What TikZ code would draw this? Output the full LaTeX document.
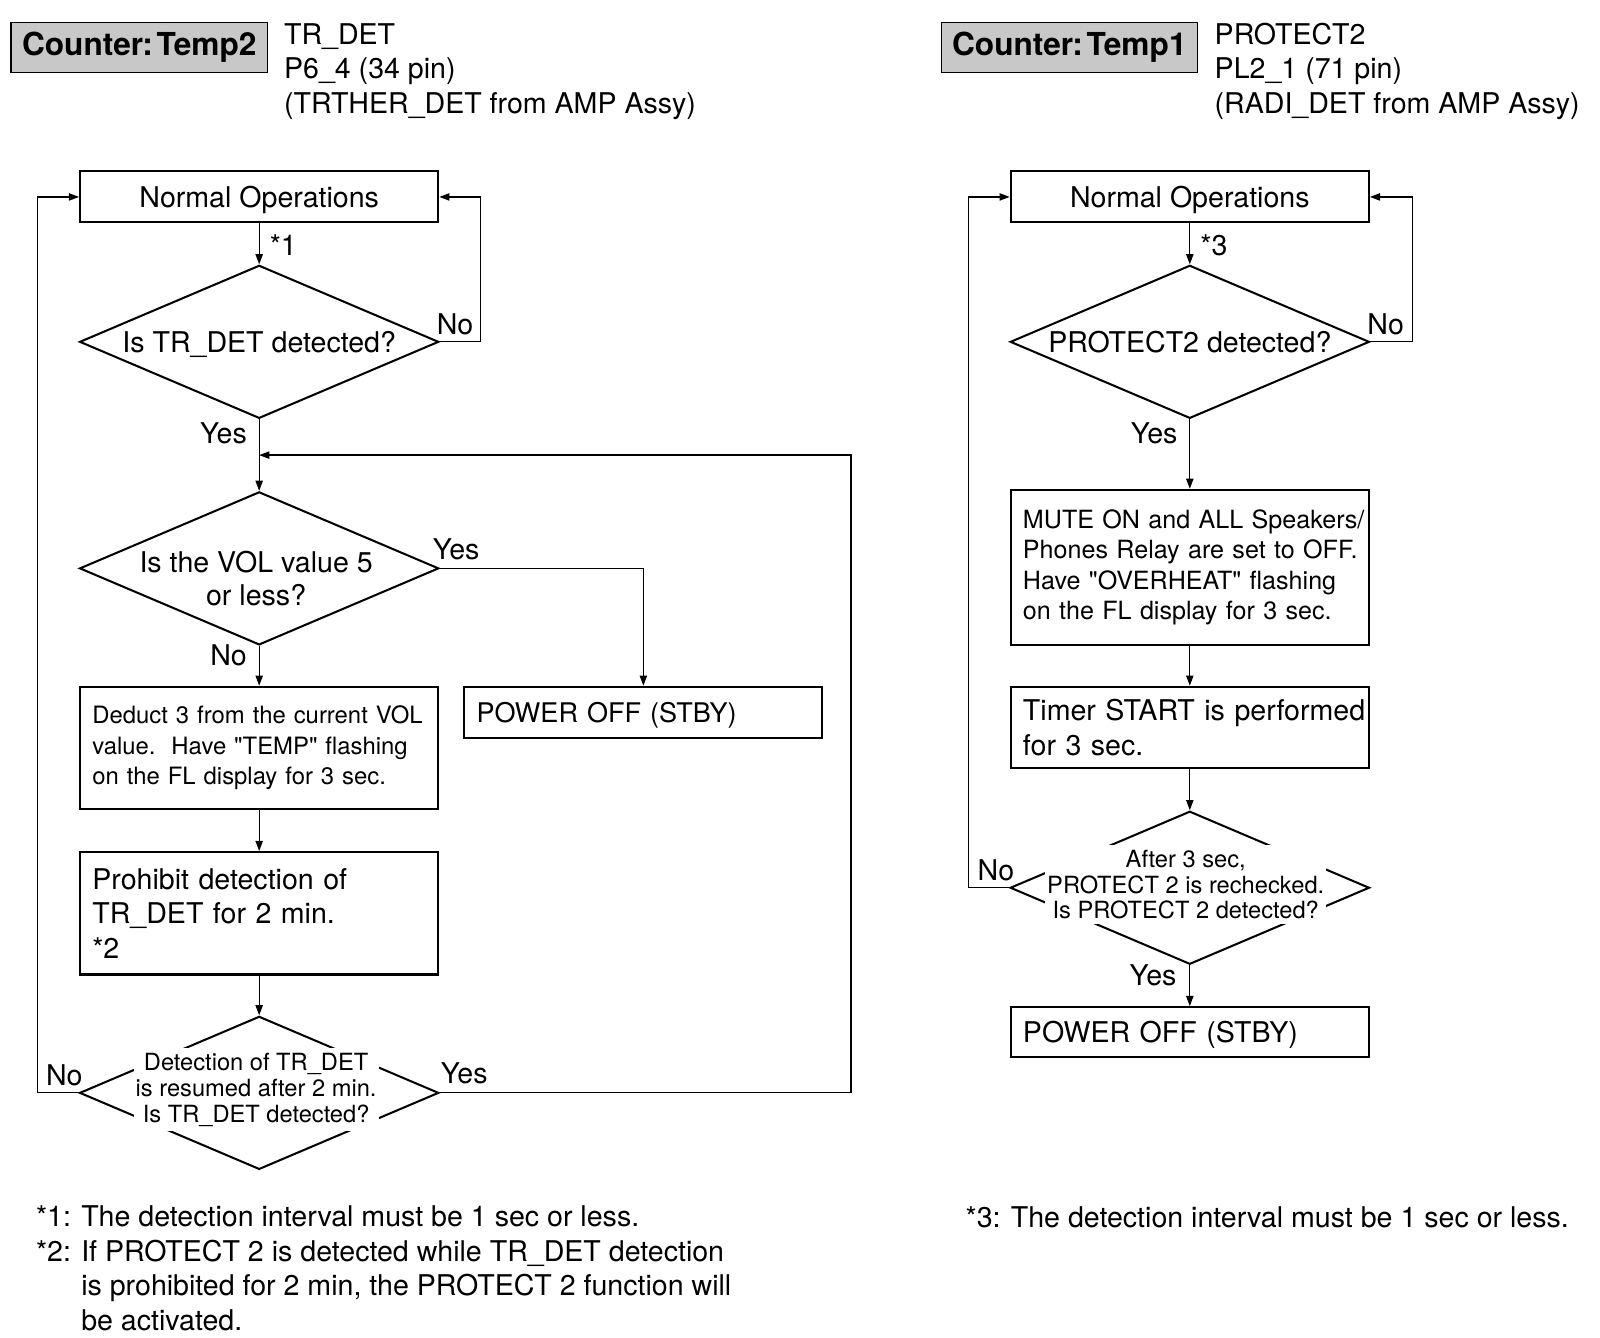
\documentclass[tikz,border=0pt]{standalone}
\usepackage{fontspec}
\setmainfont{TeX Gyre Heros}
\usetikzlibrary{shapes.geometric,arrows.meta}
\definecolor{hdrgray}{RGB}{200,200,200}
\newcommand{\oneline}[1]{\mbox{#1}}
\newcommand{\qq}{\textquotedbl}
\begin{document}
\begin{tikzpicture}[x=0.5pt,y=-0.5pt,
 conn/.style={line width=0.6pt,-{Triangle[length=5pt,width=3.6pt]}},
 flowbox/.style={draw,line width=1pt,inner sep=0pt,minimum width=175.5pt},
 leftbox/.style={flowbox,inner xsep=6pt,text width=163.5pt,align=left},
 decision/.style={draw,shape=diamond,line width=1pt,minimum width=176pt,minimum height=75pt,inner sep=0pt},
 hdr/.style={draw,line width=0.8pt,fill=hdrgray,minimum width=125.5pt,minimum height=24.5pt,inner sep=0pt,font=\fontsize{15.5}{18}\selectfont\bfseries},
 big/.style={font=\fontsize{14}{17}\selectfont},
 lbl/.style={big,inner sep=0pt},
 mask/.style={fill=white,inner xsep=1pt,inner ysep=2.5pt,align=center,font=\fontsize{11.6}{12.6}\selectfont}
]
\useasboundingbox (0,0) rectangle (1568,1311);

% ---------- left header
\node[hdr] (c2) at (136.5,46.5) {Counter:\hspace{0.12em}Temp2};
\node[lbl,align=left,anchor=west] (h2) at (278,70) {TR\_DET\\P6\_4 (34 pin)\\(TRTHER\_DET from AMP Assy)};

% ---------- left flow
\node[flowbox,minimum height=25pt,big,text depth=0pt] (no1) at (254,193) {Normal Operations};
\node[decision] (d1) at (254,335) {};
\node[big,text depth=0pt] (t1) at (254,335) {Is TR\_DET detected?};
\node[decision] (d2) at (254,557) {};
\node[big,align=center,font=\fontsize{14}{16.5}\selectfont] (t2) at (251,567) {Is the VOL value 5\\or less?};
\node[leftbox,minimum height=25pt,text depth=0pt,font=\fontsize{13.25}{16}\selectfont] (pw1) at (630.5,698) {\oneline{POWER OFF (STBY)}};
\node[leftbox,minimum height=60pt,font=\fontsize{11.7}{15}\selectfont] (ded) at (254,733) {\oneline{Deduct 3 from the current VOL}\\\oneline{value.\ \ Have \qq TEMP\qq{} flashing}\\\oneline{on the FL display for 3 sec.}};
\node[leftbox,minimum height=60pt,big] (pro) at (254,895) {\oneline{Prohibit detection of}\\\oneline{TR\_DET for 2 min.}\\{*2}};
\node[decision] (d3) at (254,1071) {};
\node[mask] (t3) at (251,1068) {Detection of TR\_DET\\is resumed after 2 min.\\Is TR\_DET detected?};

\node[lbl,anchor=west] (s1) at (264,240) {*1};
\node[lbl] (n1) at (446,318) {No};
\node[lbl] (y1) at (219,425) {Yes};
\node[lbl] (y2) at (447,538) {Yes};
\node[lbl] (n2) at (224,642) {No};
\node[lbl] (n3) at (63,1054) {No};
\node[lbl] (y3) at (455,1052) {Yes};

\coordinate (m1) at (254,446);
\draw[conn] (no1) -- (d1);
\draw[conn] (d1.east) -- ++(40,0) |- (no1.east);
\draw[conn] (d1) -- (d2);
\draw[conn] (d2.east) -| (pw1.north);
\draw[conn] (d2) -- (ded);
\draw[conn] (ded) -- (pro);
\draw[conn] (pro) -- (d3);
\draw[conn] (d3.west) -- ++(-40,0) |- (no1.west);
\draw[conn] (d3.east) -- ++(403,0) |- (m1);

% ---------- right header
\node[hdr] (c1) at (1048,46.5) {Counter:\hspace{0.12em}Temp1};
\node[lbl,align=left,anchor=west] (h1) at (1190,70) {PROTECT2\\PL2\_1 (71 pin)\\(RADI\_DET from AMP Assy)};

% ---------- right flow
\node[flowbox,minimum height=25pt,big,text depth=0pt] (no2) at (1166,193) {Normal Operations};
\node[decision] (d4) at (1166,335) {};
\node[big,text depth=0pt] (t4) at (1166,335) {PROTECT2 detected?};
\node[leftbox,minimum height=76pt,font=\fontsize{12.3}{15}\selectfont] (mute) at (1166,556) {\oneline{MUTE ON and ALL Speakers/}\\\oneline{Phones Relay are set to OFF.}\\\oneline{Have \qq OVERHEAT\qq{} flashing}\\\oneline{on the FL display for 3 sec.}};
\node[leftbox,minimum height=40pt,big] (tim) at (1166,713) {\oneline{Timer START is performed}\\for 3 sec.};
\node[decision] (d5) at (1166,870) {};
\node[mask] (t5) at (1162,867) {After 3 sec,\\PROTECT 2 is rechecked.\\Is PROTECT 2 detected?};
\node[leftbox,minimum height=24.5pt,big,text depth=0pt] (pw2) at (1166,1011.5) {\oneline{POWER OFF (STBY)}};

\node[lbl,anchor=west] (s3) at (1176,240) {*3};
\node[lbl] (n4) at (1358,318) {No};
\node[lbl] (y4) at (1131,425) {Yes};
\node[lbl] (n5) at (976,853) {No};
\node[lbl] (y5) at (1130,956) {Yes};

\draw[conn] (no2) -- (d4);
\draw[conn] (d4.east) -- ++(41,0) |- (no2.east);
\draw[conn] (d4) -- (mute);
\draw[conn] (mute) -- (tim);
\draw[conn] (tim) -- (d5);
\draw[conn] (d5.west) -- ++(-40,0) |- (no2.west);
\draw[conn] (d5) -- (pw2);

% ---------- footnotes
\node[big,anchor=west,inner sep=0pt] (fn1) at (35,1246) {\begin{tabular}{@{}l@{\hspace{5pt}}l@{}}{*1:} & The detection interval must be 1 sec or less.\\ {*2:} & If PROTECT 2 is detected while TR\_DET detection\\ & is prohibited for 2 min, the PROTECT 2 function will\\ & be activated.\end{tabular}};
\node[big,anchor=west,inner sep=0pt] (fn3) at (946,1196) {\begin{tabular}{@{}l@{\hspace{5pt}}l@{}}{*3:} & The detection interval must be 1 sec or less.\end{tabular}};
\end{tikzpicture}
\end{document}
